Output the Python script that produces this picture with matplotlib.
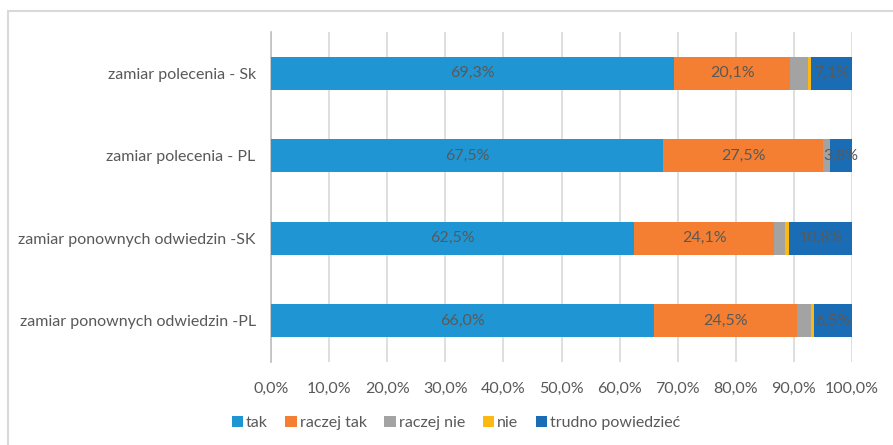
#!/usr/bin/env python3
"""Stacked horizontal bar chart: intention to recommend / revisit (PL vs SK)."""
import matplotlib
matplotlib.use("Agg")
import matplotlib.pyplot as plt
from matplotlib.patches import Rectangle
import numpy as np

categories = [
    "zamiar polecenia - Sk",
    "zamiar polecenia - PL",
    "zamiar ponownych odwiedzin -SK",
    "zamiar ponownych odwiedzin -PL",
]
series_names = ["tak", "raczej tak", "raczej nie", "nie", "trudno powiedzieć"]
tak = [69.3, 67.5, 62.5, 66.0]
raczej_tak = [20.1, 27.5, 24.1, 24.5]
raczej_nie = [3.0, 1.2, 1.8, 2.5]
nie = [0.5, 0.0, 0.8, 0.5]
trudno = [7.1, 3.8, 10.8, 6.5]
labelled = [True, True, False, False, True]

colors = ["#1F96D3", "#F47F32", "#A3A3A3", "#FDB913", "#1A6DB5"]
text_col = "#595959"

plt.rcParams["font.family"] = ["Lato", "DejaVu Sans"]
fs = 11.5

fig = plt.figure(figsize=(8.93, 4.45), dpi=100)
ax = fig.add_axes([271 / 893, 1 - 362 / 445, 581 / 893, 330 / 445])

y = np.arange(len(categories))
left = np.zeros(len(categories))
handles = []
for name, vals, col, lab in zip(series_names, [tak, raczej_tak, raczej_nie, nie, trudno], colors, labelled):
    vals = np.asarray(vals)
    bars = ax.barh(y, vals, left=left, height=0.4, color=col, label=name, zorder=3)
    handles.append(bars)
    if lab:
        for yi, l, v in zip(y, left, vals):
            ax.text(l + v / 2, yi, f"{v:.1f}%".replace(".", ","), ha="center", va="center",
                    color=text_col, fontsize=fs, zorder=4)
    left += vals

ax.set_xlim(0, 100)
ax.set_ylim(3.5, -0.5)
ax.set_xticks(np.arange(0, 101, 10))
ax.set_xticklabels([f"{v:.1f}%".replace(".", ",") for v in np.arange(0, 101, 10)])
ax.set_yticks(y)
ax.set_yticklabels(categories)
ax.tick_params(axis="both", length=0, colors=text_col, labelsize=fs)
ax.tick_params(axis="x", pad=14)
ax.tick_params(axis="y", pad=11)
ax.grid(axis="x", color="#D9D9D9", linewidth=1.2, zorder=0)
for s in ["top", "right", "bottom"]:
    ax.spines[s].set_visible(False)
ax.spines["left"].set_color("#BFBFBF")
ax.spines["left"].set_linewidth(1.2)

fig.legend(handles=handles, labels=series_names, loc="center", bbox_to_anchor=(456 / 893, 1 - 423 / 445),
           ncol=5, frameon=False, fontsize=fs, labelcolor=text_col,
           handlelength=0.7, handleheight=0.7, handletextpad=0.2, columnspacing=1.1)

# chart border (only top/left visible in the crop)
fig.patches.append(Rectangle((8 / 893, -0.1), 1.2, 1 - 11 / 445 + 0.1, transform=fig.transFigure,
                             fill=False, edgecolor="#D9D9D9", linewidth=1.5))

fig.savefig("out.png", dpi=100)
